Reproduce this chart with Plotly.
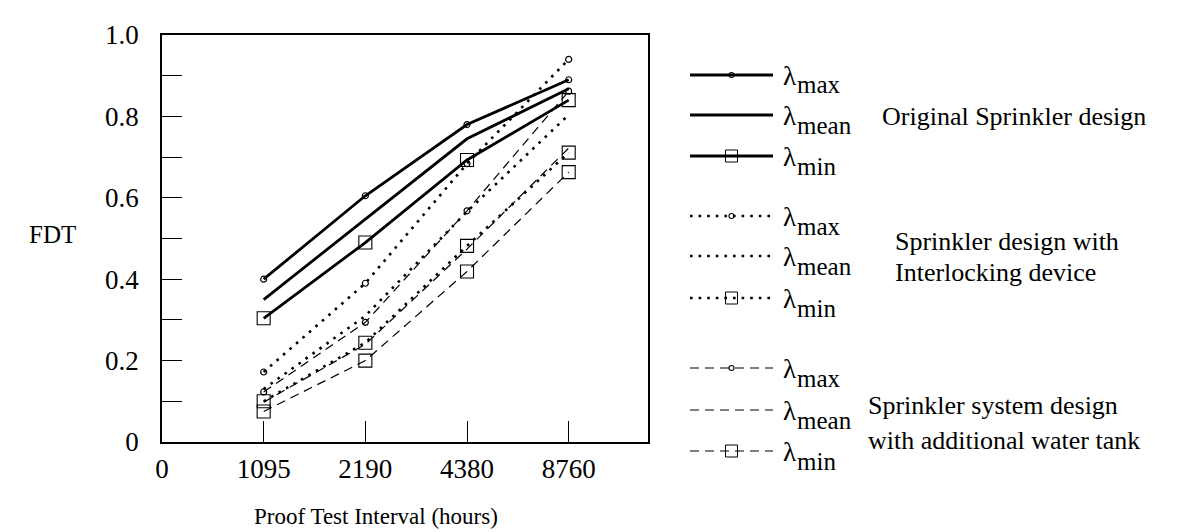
import plotly.graph_objects as go

# ---------------- data ----------------
categories = ["0", "1095", "2190", "4380", "8760"]
intervals = ["1095", "2190", "4380", "8760"]

orig_max = [0.400, 0.605, 0.780, 0.890]
orig_mean = [0.350, 0.548, 0.745, 0.868]
orig_min = [0.304, 0.490, 0.693, 0.840]

inter_max = [0.172, 0.390, 0.684, 0.940]
inter_mean = [0.130, 0.310, 0.566, 0.804]
inter_min = [0.100, 0.244, 0.482, 0.711]

tank_max = [0.123, 0.294, 0.568, 0.862]
tank_mean = [0.098, 0.240, 0.474, 0.722]
tank_min = [0.075, 0.200, 0.419, 0.663]

y_tick_vals = [0, 0.2, 0.4, 0.6, 0.8, 1.0]
y_tick_text = ["0", "0.2", "0.4", "0.6", "0.8", "1.0"]

x_title = "Proof Test Interval (hours)"
y_title = "FDT"
legend_symbol = "λ"
legend_subs = ["max", "mean", "min"]
group_texts = [
    ["Original Sprinkler design"],
    ["Sprinkler design with", "Interlocking device"],
    ["Sprinkler system design", "with additional water tank"],
]

# ---------------- layout geometry (pixels) ----------------
W, H = 1195, 532
ML, MR, MT, MB = 154, 0, 27, 32
PW = W - ML - MR
PH = H - MT - MB
plot_right = 640
plot_bottom = 434


def px(x):
    return (x - ML) / PW


def py(y):
    return (H - MB - y) / PH


FONT = "Liberation Serif, Times New Roman, serif"

solid = dict(color="black", width=2.8)
dotted = dict(color="black", width=2.6, dash="2.6px,6px")
dashed = dict(color="black", width=1.2, dash="9px,6px")
styles = [solid, dotted, dashed]

circ = dict(symbol="circle-open", size=6, color="black", line=dict(width=1.2, color="black"))
sq = dict(symbol="square-open", size=13, color="black", line=dict(width=1.1, color="black"))

groups = [
    (orig_max, orig_mean, orig_min),
    (inter_max, inter_mean, inter_min),
    (tank_max, tank_mean, tank_min),
]

fig = go.Figure()

for gi, (vmax, vmean, vmin) in enumerate(groups):
    st = styles[gi]
    fig.add_trace(go.Scatter(x=intervals, y=vmean, mode="lines", line=st,
                             showlegend=False, hoverinfo="skip"))
    fig.add_trace(go.Scatter(x=intervals, y=vmax, mode="lines+markers", line=st,
                             marker=circ, showlegend=False))
    fig.add_trace(go.Scatter(x=intervals, y=vmin, mode="lines+markers", line=st,
                             marker=sq, showlegend=False))

# ---------------- custom legend (on a hidden helper axis in pixel units) ----------------
rows = [[67, 107, 148], [208, 248, 290], [360, 402, 443]]
lx0, lx1 = 682, 765
lmid = (lx0 + lx1) / 2
leg_circ = dict(symbol="circle-open", size=5, color="black", line=dict(width=1.1, color="black"))
leg_sq = dict(symbol="square-open", size=12, color="black", line=dict(width=1.0, color="black"))

annotations = []
for gi in range(3):
    st = styles[gi]
    for ri in range(3):
        yy = rows[gi][ri]
        fig.add_trace(go.Scatter(x=[lx0, lx1], y=[yy, yy], mode="lines", line=st,
                                 xaxis="x2", yaxis="y2", showlegend=False, hoverinfo="skip"))
        if ri == 0:
            fig.add_trace(go.Scatter(x=[lmid], y=[yy], mode="markers", marker=leg_circ,
                                     xaxis="x2", yaxis="y2", showlegend=False, hoverinfo="skip"))
        elif ri == 2:
            fig.add_trace(go.Scatter(x=[lmid], y=[yy], mode="markers", marker=leg_sq,
                                     xaxis="x2", yaxis="y2", showlegend=False, hoverinfo="skip"))
        annotations.append(dict(
            text=legend_symbol, x=px(773), y=py(yy + 1), xref="paper", yref="paper",
            xanchor="left", yanchor="middle", showarrow=False,
            font=dict(family=FONT, size=27, color="black")))
        annotations.append(dict(
            text=legend_subs[ri], x=px(787), y=py(yy + 10), xref="paper", yref="paper",
            xanchor="left", yanchor="middle", showarrow=False,
            font=dict(family=FONT, size=25, color="black")))

group_pos = [
    [(872, 108)],
    [(885, 233), (885, 264)],
    [(858, 397), (858, 432)],
]
for gi in range(3):
    for (gx, gy), t in zip(group_pos[gi], group_texts[gi]):
        annotations.append(dict(
            text=t, x=px(gx), y=py(gy), xref="paper", yref="paper",
            xanchor="left", yanchor="middle", showarrow=False,
            font=dict(family=FONT, size=26, color="black")))

annotations.append(dict(text=y_title, x=px(70), y=py(226), xref="paper", yref="paper",
                        xanchor="right", yanchor="middle", showarrow=False,
                        font=dict(family=FONT, size=25, color="black")))
annotations.append(dict(text=x_title, x=px(368), y=py(508), xref="paper", yref="paper",
                        xanchor="center", yanchor="middle", showarrow=False,
                        font=dict(family=FONT, size=23, color="black")))

fig.update_layout(
    width=W, height=H,
    margin=dict(l=ML, r=MR, t=MT, b=MB, pad=0),
    paper_bgcolor="white", plot_bgcolor="white",
    showlegend=False,
    font=dict(family=FONT, size=27, color="black"),
    xaxis=dict(
        type="category", categoryorder="array", categoryarray=categories,
        range=[0, 4.78], domain=[0, px(plot_right)],
        showgrid=False, zeroline=False,
        showline=True, linecolor="black", linewidth=1.5, mirror=True,
        ticks="inside", ticklen=21, tickwidth=1.2, tickcolor="black",
        ticklabelstandoff=2,
        tickfont=dict(family=FONT, size=27, color="black"),
    ),
    yaxis=dict(
        range=[0, 1.0], domain=[py(plot_bottom), 1],
        tickvals=y_tick_vals, ticktext=y_tick_text,
        showgrid=False, zeroline=False,
        showline=True, linecolor="black", linewidth=1.5, mirror=True,
        ticks="inside", ticklen=20, tickwidth=1.2, tickcolor="black",
        ticklabelstandoff=16,
        tickfont=dict(family=FONT, size=27, color="black"),
        minor=dict(dtick=0.1, ticks="inside", ticklen=20, tickwidth=1.2, tickcolor="black"),
    ),
    xaxis2=dict(domain=[px(plot_right), 1], range=[plot_right, W], visible=False,
                anchor="y2", fixedrange=True),
    yaxis2=dict(domain=[0, 1], range=[H - MB, MT], visible=False,
                anchor="x2", fixedrange=True),
    annotations=annotations,
)

fig.write_html("out.html")
